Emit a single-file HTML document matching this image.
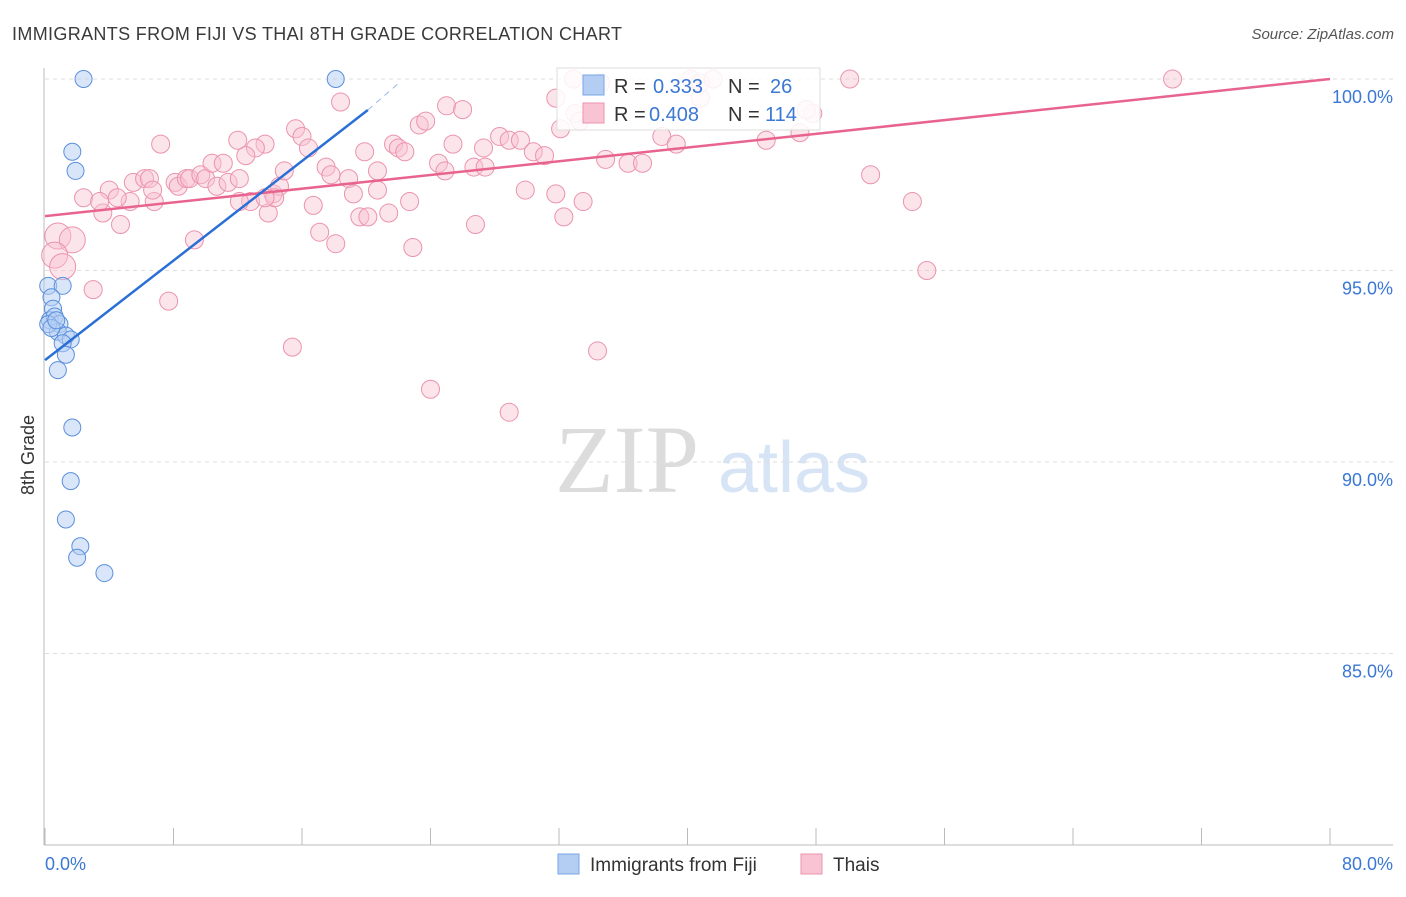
<!DOCTYPE html>
<html><head><meta charset="utf-8"><style>
body{margin:0;background:#fff;font-family:"Liberation Sans",sans-serif}
svg text{font-family:"Liberation Sans",sans-serif}
</style></head><body>
<svg width="1406" height="892" viewBox="0 0 1406 892" id="chart">
<text x="12" y="40" font-size="18" fill="#3a3a3a" textLength="610">IMMIGRANTS FROM FIJI VS THAI 8TH GRADE CORRELATION CHART</text>
<text x="1394" y="39" font-size="15" fill="#555" text-anchor="end" font-style="italic">Source: ZipAtlas.com</text>
<text x="555" y="492" font-size="96" fill="#dcdcdc" style="font-family:'Liberation Serif',serif">ZIP</text>
<text x="718" y="492" font-size="72" fill="#d6e4f5">atlas</text>
<g id="grid"></g>
<g id="axes"></g>
<g id="marks"></g>
<g>
<rect x="557" y="68" width="263" height="62" fill="#fff" fill-opacity="0.85" stroke="#ddd"/>
<rect x="583" y="75" width="21" height="20" fill="#b3cdf3" stroke="#7aa6e6"/>
<text x="614" y="93" font-size="20" fill="#333">R = </text><text x="653" y="93" font-size="20" fill="#3a78d4">0.333</text>
<text x="728" y="93" font-size="20" fill="#333">N = </text><text x="770" y="93" font-size="20" fill="#3a78d4">26</text>
<rect x="583" y="103" width="21" height="20" fill="#f8c3d3" stroke="#eb93ad"/>
<text x="614" y="121" font-size="20" fill="#333">R = </text><text x="649" y="121" font-size="20" fill="#3a78d4">0.408</text>
<text x="728" y="121" font-size="20" fill="#333">N = </text><text x="765" y="121" font-size="20" fill="#3a78d4">114</text>
</g>
<g>
<rect x="558" y="854" width="21" height="20" fill="#b3cdf3" stroke="#7aa6e6"/>
<text x="590" y="871" font-size="19" fill="#333">Immigrants from Fiji</text>
<rect x="801" y="854" width="21" height="20" fill="#f8c3d3" stroke="#eb93ad"/>
<text x="833" y="871" font-size="19" fill="#333">Thais</text>
</g>
<text transform="translate(34,455) rotate(-90)" font-size="18" fill="#333" text-anchor="middle">8th Grade</text>
</svg>
<script>
const xTicks=[0,8,16,24,32,40,48,56,64,72,80];
const yTicks=[85,90,95,100];
const yTickLabels=["85.0%","90.0%","95.0%","100.0%"];
const xTickLabels=["0.0%","80.0%"];
const fijiX=[2.4,18.1,1.7,1.9,0.2,1.1,0.4,0.5,0.3,0.6,0.9,0.8,1.3,1.6,1.1,1.3,0.8,1.7,1.6,1.3,2.2,2.0,3.7,0.2,0.4,0.7];
const fijiY=[100,100,98.1,97.6,94.6,94.6,94.3,94.0,93.7,93.8,93.6,93.4,93.3,93.2,93.1,92.8,92.4,90.9,89.5,88.5,87.8,87.5,87.1,93.6,93.5,93.7];
const thaiX=[7.2,12.0,13.7,13.1,15.6,16.0,16.4,18.4,25.0,26.0,23.3,23.7,25.4,27.3,28.3,28.9,29.6,30.4,31.1,19.9,21.7,22.0,22.4,24.5,24.9,26.7,27.4,17.5,17.8,18.9,20.7,19.2,20.7,22.7,21.4,19.6,20.1,16.7,17.1,18.1,22.9,26.8,29.9,31.8,33.5,32.3,34.9,36.3,37.2,38.4,39.3,44.9,47.0,47.8,47.4,51.4,54.0,54.9,50.1,70.2,32.9,34.6,33.0,33.3,40.2,40.8,41.6,34.4,24.0,28.9,15.4,7.7,3.0,9.3,0.8,1.7,0.6,1.1,3.6,2.4,4.0,3.4,4.7,5.5,6.2,6.5,6.8,8.1,8.3,8.8,9.0,9.7,10.0,10.4,10.7,11.1,11.4,12.1,12.5,12.8,13.9,14.2,14.6,14.9,14.3,6.7,5.3,4.5,13.7,12.1,31.8,32.1,40.8];
const thaiY=[98.3,98.4,98.3,98.2,98.7,98.5,98.2,99.4,99.3,99.2,98.8,98.9,98.3,98.2,98.5,98.4,98.4,98.1,98.0,98.1,98.3,98.2,98.1,97.8,97.6,97.7,97.7,97.7,97.5,97.4,97.6,97.0,97.1,96.8,96.5,96.4,96.4,96.7,96.0,95.7,95.6,96.2,97.1,97.0,96.8,96.4,97.9,97.8,97.8,98.5,98.3,98.4,98.6,99.1,99.2,97.5,96.8,95.0,100,100,100,99.9,99.1,98.9,100,99.9,100,92.9,91.9,91.3,93.0,94.2,94.5,95.8,95.9,95.8,95.4,95.1,96.5,96.9,97.1,96.8,96.2,97.3,97.4,97.4,96.8,97.3,97.2,97.4,97.4,97.5,97.4,97.8,97.2,97.8,97.3,97.4,98.0,96.8,96.5,97.0,97.2,97.6,96.9,97.1,96.8,96.9,96.9,96.8,99.5,98.7,99.5];
const fijiTrendX=[0,20.1];const fijiTrendY=[92.66,99.19];const fijiDashX=[20.1,22.1];const fijiDashY=[99.19,99.92];
const thaiTrendX=[0,80];const thaiTrendY=[96.42,100];
const X=v=>45+v*(1285/80);
const Y=v=>79+(100-v)*38.3;
const NS="http://www.w3.org/2000/svg";
function mk(t,a,p){const e=document.createElementNS(NS,t);for(const k in a)e.setAttribute(k,a[k]);p.appendChild(e);return e;}
const grid=document.getElementById('grid'),axes=document.getElementById('axes'),marks=document.getElementById('marks');
yTicks.forEach((t,i)=>{
const l=mk('line',{x1:45,x2:1393,y1:Y(t),y2:Y(t),stroke:'#ddd','stroke-dasharray':'4,4'},grid);


const tx=mk('text',{x:1393,y:Y(t)+24,'font-size':18,fill:'#3a78d4','text-anchor':'end'},axes);
tx.textContent=yTickLabels[i];


});
const ax=mk('line',{x1:44,x2:44,y1:68,y2:845,stroke:'#bbb'},axes);


const bx=mk('line',{x1:44,x2:1393,y1:845,y2:845,stroke:'#bbb'},axes);


xTicks.forEach(v=>{
const t=mk('line',{x1:X(v),x2:X(v),y1:828,y2:845,stroke:'#bbb'},axes);


});
const xl0=mk('text',{x:45,y:870,'font-size':18,fill:'#3a78d4'},axes);xl0.textContent=xTickLabels[0];


const xl1=mk('text',{x:1393,y:870,'font-size':18,fill:'#3a78d4','text-anchor':'end'},axes);xl1.textContent=xTickLabels[1];


thaiX.forEach((v,i)=>{
const c=mk('circle',{cx:X(v),cy:Y(thaiY[i]),r:v<2?13:9,fill:'#f8c3d3','fill-opacity':0.45,stroke:'#eb93ad','stroke-width':1},marks);


});
fijiX.forEach((v,i)=>{
const c=mk('circle',{cx:X(v),cy:Y(fijiY[i]),r:8.5,fill:'#b3cdf3','fill-opacity':0.5,stroke:'#5b8fdc','stroke-width':1},marks);


});
const pl=mk('line',{x1:X(thaiTrendX[0]),y1:Y(thaiTrendY[0]),x2:X(thaiTrendX[1]),y2:Y(thaiTrendY[1]),stroke:'#e8648f','stroke-width':2.5},marks);


const bl=mk('line',{x1:X(fijiTrendX[0]),y1:Y(fijiTrendY[0]),x2:X(fijiTrendX[1]),y2:Y(fijiTrendY[1]),stroke:'#2a6fd6','stroke-width':2.5},marks);


const bd=mk('line',{x1:X(fijiDashX[0]),y1:Y(fijiDashY[0]),x2:X(fijiDashX[1]),y2:Y(fijiDashY[1]),stroke:'#9bb8e6','stroke-width':1,'stroke-dasharray':'6,5'},marks);


</script>
</body></html>
